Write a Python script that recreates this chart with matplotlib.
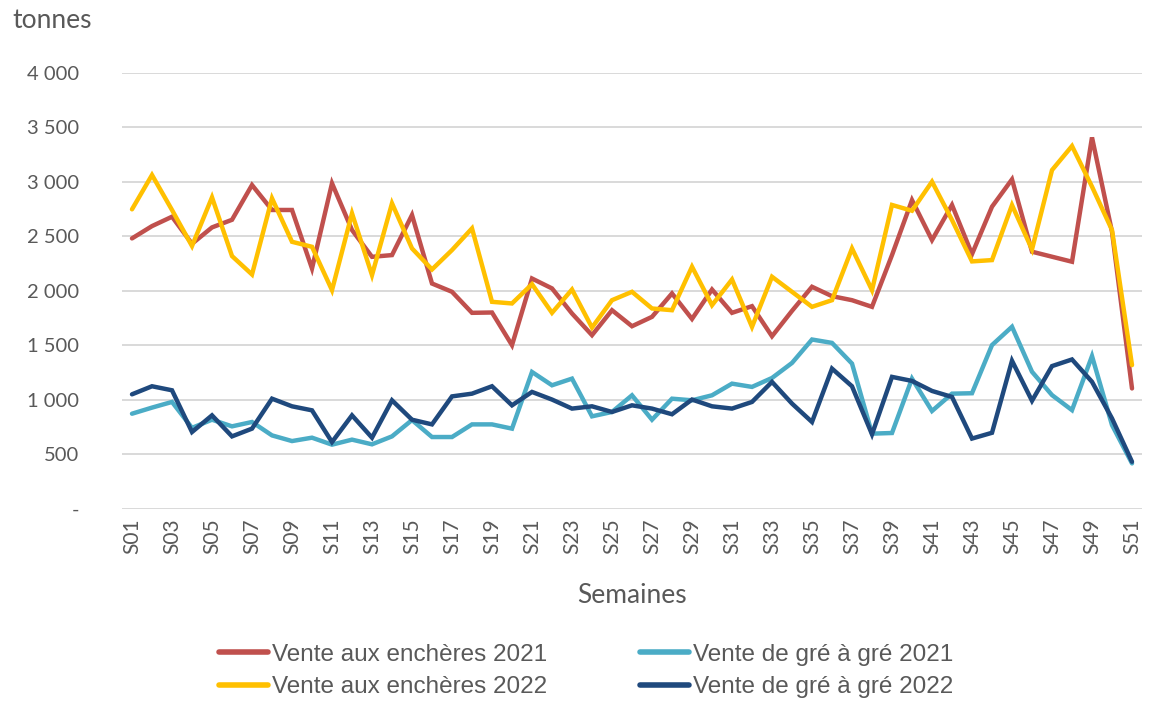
import matplotlib
matplotlib.use('Agg')
import matplotlib.pyplot as plt
from matplotlib.lines import Line2D

FONT = ['Lato', 'DejaVu Sans']
LEG_FONT = ['Liberation Sans Narrow', 'Liberation Sans', 'DejaVu Sans']
GREY = '#595959'

weeks = [f"S{i:02d}" for i in range(1, 52)]

encheres_2021 = [2479, 2592, 2678, 2430, 2580, 2650, 2969, 2740, 2740, 2203,
                 2985, 2556, 2310, 2326, 2694, 2065, 1989, 1796, 1799, 1499,
                 2111, 2020, 1790, 1591, 1820, 1673, 1759, 1974, 1740, 2010,
                 1796, 1857, 1581, 1814, 2035, 1949, 1912, 1851, 2326, 2831,
                 2464, 2786, 2335, 2770, 3021, 2357, 2311, 2265, 3406, 2540,
                 1102]

encheres_2022 = [2746, 3061, 2740, 2409, 2856, 2317, 2148, 2847, 2448, 2402,
                 2004, 2709, 2142, 2801, 2387, 2194, 2372, 2571, 1897, 1882,
                 2059, 1796, 2010, 1661, 1912, 1989, 1836, 1820, 2219, 1866,
                 2102, 1667, 2127, 1989, 1851, 1912, 2387, 2004, 2786, 2733,
                 3000, 2648, 2268, 2280, 2785, 2378, 3106, 3327, 2954, 2556,
                 1316]

gre_2021 = [870, 926, 978, 740, 815, 754, 794, 671, 619, 650,
            586, 632, 589, 662, 812, 656, 656, 772, 772, 733,
            1253, 1131, 1192, 846, 886, 1039, 815, 1008, 993, 1039,
            1146, 1116, 1198, 1336, 1551, 1520, 1330, 687, 693, 1192,
            895, 1054, 1058, 1500, 1668, 1255, 1041, 903, 1399, 766,
            414]

gre_2022 = [1048, 1122, 1085, 702, 855, 662, 733, 1008, 938, 901,
            610, 855, 650, 993, 815, 772, 1029, 1054, 1122, 947,
            1070, 1000, 917, 938, 886, 947, 917, 865, 1000, 938,
            917, 978, 1162, 963, 794, 1284, 1122, 681, 1208, 1171,
            1079, 1024, 642, 695, 1356, 989, 1307, 1368, 1163, 827,
            429]

series = [
    ("Vente aux enchères 2021", encheres_2021, '#C0504D'),
    ("Vente aux enchères 2022", encheres_2022, '#FFC000'),
    ("Vente de gré à gré 2021", gre_2021, '#4BACC6'),
    ("Vente de gré à gré 2022", gre_2022, '#1F497D'),
]

yticks = [0, 500, 1000, 1500, 2000, 2500, 3000, 3500, 4000]
ytick_labels = ['-', '500', '1 000', '1 500', '2 000', '2 500', '3 000', '3 500', '4 000']

fig = plt.figure(figsize=(11.5, 7.04), dpi=100)
fig.patch.set_facecolor('white')
ax = fig.add_axes([122 / 1150, 1 - 508.5 / 704, 1020 / 1150, (508.5 - 72.7) / 704])

x = list(range(len(weeks)))
# gré lines underneath, auction lines on top
for idx in [2, 3, 0, 1]:
    name, vals, col = series[idx]
    ax.plot(x, vals, color=col, lw=3.2, solid_capstyle='round',
            solid_joinstyle='miter', clip_on=False, zorder=3 + idx)

ax.set_xlim(-0.5, len(weeks) - 0.5)
ax.set_ylim(0, 4000)
ax.set_yticks(yticks)
ax.set_yticklabels(ytick_labels, fontfamily=FONT, fontsize=14.5, color=GREY)
ax.set_xticks(x[::2])
ax.set_xticklabels(weeks[::2], rotation=90, fontfamily=FONT, fontsize=15,
                   color=GREY, ha='center', va='top')
ax.tick_params(axis='y', length=0, pad=31)
ax.tick_params(axis='x', length=0, pad=7)
ax.grid(axis='y', color='#D9D9D9', lw=1.4, zorder=0)
ax.set_axisbelow(True)
for sp in ax.spines.values():
    sp.set_visible(False)

ax.set_xlabel("Semaines", fontfamily=FONT, fontsize=19, color=GREY, labelpad=21)
fig.text(12 / 1150, 1 - 20 / 704, "tonnes", fontfamily=FONT, fontsize=19,
         color=GREY, ha='left', va='center')

handles = [Line2D([0], [0], color=c, lw=4, solid_capstyle='round') for _, _, c in series]
labels = [n for n, _, _ in series]
leg = fig.legend(handles, labels, ncol=2, loc='center',
                 bbox_to_anchor=(586 / 1150, 1 - 671 / 704), frameon=False,
                 prop={'family': LEG_FONT, 'size': 17.5}, handlelength=2.05,
                 handletextpad=0.15, columnspacing=3.8, labelspacing=0.42)
for t in leg.get_texts():
    t.set_color(GREY)

fig.savefig('out.png', dpi=100, facecolor='white')
